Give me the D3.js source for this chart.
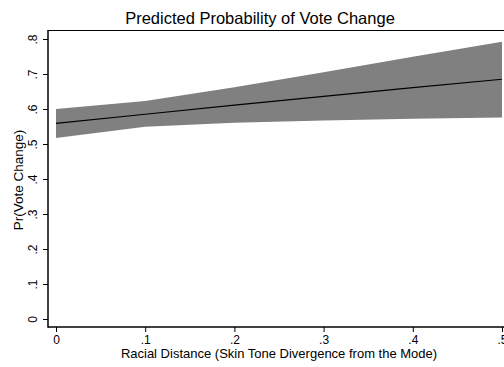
<!DOCTYPE html>
<html>
<head>
<meta charset="utf-8" />
<title>Predicted Probability of Vote Change</title>
<script src="https://cdn.jsdelivr.net/npm/d3@7"></script>
<style>
  body { margin: 0; background: #fff; }
  text { font-family: "Liberation Sans", Arial, Helvetica, sans-serif; fill: #000; }
</style>
</head>
<body>
<script>
// data
var distance = [0, 0.1, 0.2, 0.3, 0.4, 0.5];
var prob     = [0.559, 0.585, 0.611, 0.636, 0.661, 0.685];
var upper    = [0.600, 0.623, 0.662, 0.705, 0.749, 0.792];
var lower    = [0.517, 0.549, 0.561, 0.567, 0.572, 0.576];
var xTicks = [0, 0.1, 0.2, 0.3, 0.4, 0.5];
var yTicks = [0, 0.1, 0.2, 0.3, 0.4, 0.5, 0.6, 0.7, 0.8];

var width = 504, height = 367;
var svg = d3.select('body').append('svg').attr('width', width).attr('height', height);

var x = d3.scaleLinear().domain([0, 0.5]).range([56, 502]);
var y = d3.scaleLinear().domain([0, 0.8]).range([319, 39]);

function fmt(d) { return d === 0 ? '0' : d3.format('.1f')(d).replace(/^0/, ''); }

var rows = distance.map(function(d, i) { return { x: d, p: prob[i], lo: lower[i], hi: upper[i] }; });

// confidence band
var area = d3.area().x(function(d) { return x(d.x); }).y0(function(d) { return y(d.lo); }).y1(function(d) { return y(d.hi); });
svg.append('path').datum(rows).attr('d', area).attr('fill', '#808080');

// predicted line
var line = d3.line().x(function(d) { return x(d.x); }).y(function(d) { return y(d.p); });
svg.append('path').datum(rows).attr('d', line).attr('fill', 'none').attr('stroke', '#000').attr('stroke-width', 1.2);

// plot region outline (top), axes
svg.append('line').attr('x1', 48).attr('x2', 504).attr('y1', 30.5).attr('y2', 30.5).attr('stroke', '#000').attr('stroke-width', 1);

var xAxis = d3.axisBottom(x).tickValues(xTicks).tickFormat(fmt).tickSize(5).tickPadding(3);
var gx = svg.append('g').attr('transform', 'translate(0,327)').call(xAxis);
gx.select('.domain').remove();
gx.append('line').attr('x1', 48).attr('x2', 504).attr('stroke', '#000').attr('stroke-width', 1.5);
gx.selectAll('text').attr('font-size', '12px').attr('fill', '#000');

var yAxis = d3.axisLeft(y).tickValues(yTicks).tickFormat(fmt).tickSize(5);
var gy = svg.append('g').attr('transform', 'translate(48,0)').call(yAxis);
gy.select('.domain').remove();
gy.append('line').attr('y1', 30).attr('y2', 327.75).attr('stroke', '#000').attr('stroke-width', 1.5);
gy.selectAll('.tick text')
  .attr('x', null).attr('dy', null)
  .attr('transform', 'translate(-11,0) rotate(-90)')
  .attr('text-anchor', 'middle')
  .attr('font-size', '12px').attr('fill', '#000');

// titles
svg.append('text').attr('x', 260).attr('y', 24).attr('text-anchor', 'middle')
  .attr('font-size', '16.5px').text('Predicted Probability of Vote Change');
svg.append('text').attr('x', 279).attr('y', 358).attr('text-anchor', 'middle')
  .attr('font-size', '13px').text('Racial Distance (Skin Tone Divergence from the Mode)');
svg.append('text').attr('transform', 'translate(23,180) rotate(-90)').attr('text-anchor', 'middle')
  .attr('font-size', '13.5px').text('Pr(Vote Change)');
</script>
</body>
</html>
